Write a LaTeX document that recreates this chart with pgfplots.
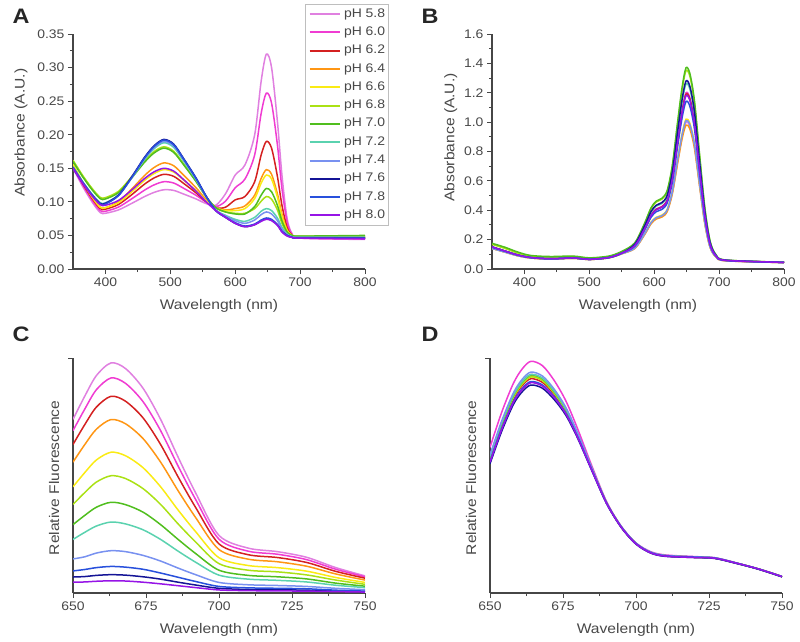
\documentclass[border=0pt]{standalone}
\usepackage{fontspec}
\setmainfont{Liberation Sans}[FakeStretch=1.12]
\usepackage{pgfplots}
\usepackage{pgfplotstable}
\pgfplotsset{compat=1.18}

\definecolor{c58}{RGB}{224,128,224}
\definecolor{c60}{RGB}{240,60,210}
\definecolor{c62}{RGB}{212,32,32}
\definecolor{c64}{RGB}{255,150,20}
\definecolor{c66}{RGB}{250,235,20}
\definecolor{c68}{RGB}{170,225,20}
\definecolor{c70}{RGB}{80,190,30}
\definecolor{c72}{RGB}{90,210,175}
\definecolor{c74}{RGB}{120,145,240}
\definecolor{c76}{RGB}{20,20,150}
\definecolor{c78}{RGB}{40,80,220}
\definecolor{c80}{RGB}{150,20,230}
\definecolor{txt}{RGB}{72,72,72}
\definecolor{axc}{RGB}{70,70,70}
\definecolor{lgc}{RGB}{190,190,190}

% Panel A: absorbance vs pH
\pgfplotstableread{
x p58 p60 p62 p64 p66 p68 p70 p72 p74 p76 p78 p80
350 0.150 0.152 0.153 0.155 0.156 0.162 0.160 0.152 0.150 0.150 0.152 0.150
365 0.1228 0.1252 0.127 0.129 0.1296 0.1392 0.1372 0.130 0.1284 0.1284 0.1292 0.1276
380 0.099 0.1018 0.1043 0.1063 0.1065 0.1193 0.1173 0.1108 0.1095 0.1095 0.1093 0.108
392 0.084 0.087 0.090 0.092 0.092 0.1067 0.1047 0.0987 0.0976 0.0976 0.0967 0.0957
400 0.083 0.086 0.0891 0.0914 0.0912 0.1063 0.1043 0.0986 0.0978 0.0978 0.0968 0.095
420 0.088 0.0922 0.0961 0.1002 0.0987 0.1156 0.1137 0.1101 0.1096 0.1100 0.1091 0.102
440 0.0975 0.1042 0.1103 0.1186 0.1144 0.1369 0.1350 0.1349 0.1353 0.1365 0.1355 0.1173
460 0.1077 0.1173 0.1262 0.139 0.1318 0.1608 0.1587 0.1627 0.1638 0.1660 0.1650 0.1345
475 0.1141 0.1253 0.1356 0.1512 0.1422 0.1749 0.1728 0.1792 0.1809 0.1836 0.1825 0.1447
490 0.118 0.130 0.141 0.158 0.148 0.182 0.180 0.188 0.190 0.193 0.192 0.150
505 0.1171 0.1281 0.1381 0.1539 0.1445 0.1756 0.1738 0.1814 0.1834 0.1862 0.1853 0.1459
520 0.1118 0.1205 0.1279 0.1403 0.1329 0.1572 0.1558 0.1614 0.1630 0.1652 0.1646 0.1336
540 0.1042 0.1095 0.1131 0.1206 0.1161 0.1306 0.1298 0.1325 0.1335 0.1349 0.1344 0.1156
555 0.0975 0.0998 0.1003 0.1036 0.1016 0.1080 0.1077 0.1077 0.1082 0.1088 0.1086 0.1003
570 0.095 0.093 0.0911 0.0914 0.0912 0.0912 0.0914 0.088 0.088 0.087 0.087 0.087
585 0.112 0.101 0.092 0.088 0.087 0.085 0.085 0.080 0.079 0.077 0.077 0.077
600 0.140 0.121 0.103 0.090 0.087 0.083 0.082 0.074 0.072 0.068 0.069 0.068
615 0.155 0.134 0.108 0.094 0.090 0.083 0.082 0.071 0.068 0.063 0.064 0.063
630 0.200 0.170 0.130 0.110 0.105 0.090 0.093 0.077 0.073 0.066 0.067 0.066
640 0.280 0.232 0.170 0.135 0.128 0.101 0.110 0.086 0.081 0.072 0.073 0.071
648 0.320 0.262 0.190 0.148 0.140 0.108 0.120 0.090 0.085 0.075 0.076 0.074
656 0.300 0.247 0.180 0.141 0.134 0.104 0.115 0.087 0.082 0.073 0.074 0.072
665 0.220 0.185 0.138 0.112 0.107 0.088 0.095 0.076 0.072 0.066 0.066 0.065
672 0.140 0.120 0.095 0.082 0.079 0.068 0.072 0.062 0.060 0.056 0.056 0.055
680 0.075 0.070 0.062 0.058 0.057 0.054 0.055 0.052 0.051 0.050 0.050 0.049
688 0.052 0.051 0.050 0.050 0.050 0.050 0.050 0.048 0.048 0.047 0.047 0.047
700 0.046 0.046 0.047 0.048 0.048 0.049 0.049 0.047 0.047 0.046 0.046 0.046
800 0.044 0.045 0.046 0.047 0.047 0.049 0.050 0.047 0.047 0.046 0.046 0.045
}\tabA

% Panel B
\pgfplotstableread{
x p58 p60 p62 p64 p66 p68 p70 p72 p74 p76 p78 p80
350 0.140 0.150 0.150 0.140 0.140 0.168 0.175 0.150 0.140 0.150 0.150 0.150
370 0.115 0.122 0.122 0.115 0.115 0.140 0.148 0.122 0.115 0.122 0.122 0.122
390 0.090 0.095 0.095 0.090 0.090 0.108 0.115 0.095 0.090 0.095 0.095 0.095
410 0.075 0.078 0.078 0.075 0.075 0.088 0.092 0.078 0.075 0.078 0.078 0.078
440 0.068 0.070 0.070 0.068 0.068 0.080 0.085 0.070 0.068 0.070 0.070 0.070
475 0.073 0.075 0.075 0.073 0.073 0.084 0.088 0.075 0.073 0.075 0.075 0.075
500 0.065 0.066 0.066 0.065 0.065 0.073 0.076 0.066 0.065 0.066 0.066 0.066
530 0.076 0.078 0.078 0.076 0.076 0.085 0.088 0.078 0.076 0.078 0.078 0.078
550 0.104 0.108 0.108 0.104 0.104 0.116 0.120 0.108 0.104 0.108 0.108 0.108
570 0.141 0.161 0.160 0.139 0.143 0.176 0.178 0.167 0.142 0.169 0.155 0.159
585 0.236 0.276 0.274 0.232 0.240 0.306 0.310 0.288 0.238 0.292 0.264 0.272
595 0.312 0.368 0.366 0.307 0.318 0.410 0.416 0.385 0.315 0.391 0.352 0.363
603 0.346 0.409 0.406 0.340 0.352 0.456 0.462 0.428 0.349 0.434 0.390 0.403
612 0.360 0.426 0.423 0.354 0.367 0.476 0.482 0.446 0.363 0.453 0.406 0.420
620 0.398 0.472 0.469 0.391 0.406 0.528 0.535 0.495 0.402 0.502 0.450 0.465
628 0.523 0.623 0.618 0.513 0.533 0.698 0.708 0.653 0.528 0.663 0.593 0.613
636 0.733 0.877 0.869 0.718 0.747 0.985 1.000 0.920 0.740 0.934 0.833 0.862
643 0.905 1.085 1.076 0.887 0.923 1.220 1.238 1.139 0.914 1.157 1.031 1.067
649 1.000 1.200 1.190 0.980 1.020 1.350 1.370 1.260 1.010 1.280 1.140 1.180
655 0.971 1.165 1.156 0.952 0.991 1.311 1.330 1.224 0.981 1.243 1.107 1.146
662 0.838 1.004 0.995 0.821 0.854 1.128 1.145 1.053 0.846 1.070 0.954 0.987
670 0.570 0.680 0.675 0.559 0.581 0.763 0.774 0.713 0.576 0.724 0.647 0.669
678 0.312 0.368 0.366 0.307 0.318 0.410 0.416 0.385 0.315 0.391 0.352 0.363
686 0.150 0.172 0.171 0.148 0.152 0.189 0.191 0.179 0.151 0.181 0.165 0.170
695 0.083 0.091 0.091 0.082 0.084 0.097 0.098 0.094 0.084 0.094 0.089 0.090
710 0.056 0.059 0.059 0.056 0.057 0.061 0.061 0.060 0.057 0.060 0.058 0.059
800 0.044 0.045 0.045 0.044 0.044 0.046 0.046 0.045 0.044 0.045 0.045 0.045
}\tabB

% Panel C
\pgfplotstableread{
x p58 p60 p62 p64 p66 p68 p70 p72 p74 p76 p78 p80
650 0.739 0.691 0.632 0.557 0.452 0.377 0.291 0.228 0.145 0.068 0.094 0.046
654 0.837 0.782 0.716 0.631 0.512 0.427 0.330 0.258 0.154 0.070 0.100 0.047
658 0.925 0.865 0.791 0.697 0.566 0.472 0.365 0.285 0.170 0.075 0.108 0.050
663 0.979 0.915 0.837 0.738 0.599 0.499 0.386 0.302 0.180 0.078 0.113 0.052
668 0.955 0.892 0.816 0.720 0.584 0.487 0.376 0.294 0.176 0.076 0.110 0.051
674 0.871 0.814 0.745 0.657 0.533 0.444 0.344 0.269 0.160 0.069 0.101 0.046
680 0.739 0.691 0.632 0.557 0.452 0.377 0.291 0.228 0.136 0.059 0.085 0.039
686 0.578 0.540 0.494 0.435 0.353 0.294 0.228 0.178 0.106 0.046 0.067 0.031
692 0.426 0.398 0.364 0.321 0.261 0.217 0.168 0.131 0.078 0.034 0.049 0.023
700 0.245 0.229 0.209 0.185 0.150 0.125 0.097 0.076 0.045 0.020 0.028 0.013
710 0.191 0.178 0.163 0.144 0.117 0.097 0.075 0.059 0.035 0.015 0.022 0.010
720 0.176 0.165 0.151 0.133 0.108 0.090 0.069 0.054 0.032 0.014 0.020 0.009
730 0.152 0.142 0.130 0.114 0.093 0.077 0.060 0.047 0.028 0.012 0.018 0.008
740 0.108 0.101 0.092 0.081 0.066 0.055 0.042 0.033 0.020 0.009 0.012 0.006
750 0.073 0.069 0.063 0.055 0.045 0.037 0.029 0.023 0.014 0.006 0.008 0.004
}\tabC

% Panel D
\pgfplotstableread{
x p58 p60 p62 p64 p66 p68 p70 p72 p74 p76 p78 p80
650 0.581 0.620 0.568 0.578 0.574 0.574 0.580 0.581 0.588 0.550 0.560 0.557
654 0.724 0.769 0.710 0.720 0.716 0.716 0.722 0.724 0.732 0.688 0.700 0.696
658 0.842 0.892 0.826 0.838 0.833 0.833 0.840 0.842 0.851 0.802 0.815 0.811
661 0.899 0.953 0.882 0.894 0.889 0.889 0.897 0.899 0.909 0.856 0.870 0.865
664 0.930 0.986 0.912 0.925 0.920 0.920 0.928 0.930 0.940 0.885 0.900 0.895
668 0.914 0.967 0.896 0.909 0.904 0.904 0.912 0.914 0.923 0.871 0.885 0.880
672 0.859 0.904 0.845 0.855 0.851 0.851 0.857 0.859 0.867 0.823 0.835 0.831
676 0.783 0.817 0.772 0.780 0.777 0.777 0.782 0.783 0.789 0.756 0.765 0.762
680 0.677 0.699 0.670 0.675 0.673 0.673 0.676 0.677 0.681 0.659 0.665 0.663
685 0.526 0.537 0.522 0.525 0.524 0.524 0.526 0.526 0.528 0.517 0.520 0.519
690 0.382 0.387 0.381 0.382 0.382 0.382 0.382 0.382 0.383 0.379 0.380 0.380
695 0.281 0.283 0.280 0.281 0.280 0.280 0.281 0.281 0.282 0.278 0.280 0.279
700 0.211 0.213 0.210 0.211 0.210 0.210 0.211 0.211 0.212 0.208 0.210 0.209
705 0.173 0.176 0.172 0.173 0.172 0.172 0.173 0.173 0.174 0.170 0.172 0.171
710 0.159 0.162 0.158 0.159 0.158 0.158 0.159 0.159 0.160 0.156 0.158 0.157
720 0.153 0.155 0.152 0.153 0.152 0.152 0.153 0.153 0.154 0.151 0.152 0.151
727 0.149 0.150 0.148 0.149 0.148 0.148 0.149 0.149 0.150 0.147 0.148 0.148
735 0.125 0.126 0.125 0.125 0.125 0.125 0.125 0.125 0.126 0.124 0.125 0.125
742 0.102 0.102 0.102 0.102 0.102 0.102 0.102 0.102 0.102 0.101 0.102 0.102
750 0.070 0.070 0.070 0.070 0.070 0.070 0.070 0.070 0.070 0.069 0.070 0.070
}\tabD

\newcommand{\plotall}[1]{%
  \addplot[c58] table[x=x,y=p58]{#1};
  \addplot[c60] table[x=x,y=p60]{#1};
  \addplot[c62] table[x=x,y=p62]{#1};
  \addplot[c64] table[x=x,y=p64]{#1};
  \addplot[c66] table[x=x,y=p66]{#1};
  \addplot[c68] table[x=x,y=p68]{#1};
  \addplot[c70] table[x=x,y=p70]{#1};
  \addplot[c72] table[x=x,y=p72]{#1};
  \addplot[c74] table[x=x,y=p74]{#1};
  \addplot[c76] table[x=x,y=p76]{#1};
  \addplot[c78] table[x=x,y=p78]{#1};
  \addplot[c80] table[x=x,y=p80]{#1};
}

\pgfplotsset{
  panel/.style={
    scale only axis, width=292bp, height=235bp,
    axis lines*=left,
    tick align=outside,
    major tick length=5bp, minor tick length=3bp,
    axis line style={color=axc, line width=1.2bp},
    every tick/.style={color=axc, line width=0.9bp},
    /pgf/number format/assume math mode=true,
    tick label style={font=\fontsize{12.5}{14}\selectfont, text=txt},
    label style={font=\fontsize{14}{16}\selectfont, text=txt},
    xlabel={Wavelength (nm)},
    xlabel style={at={(axis description cs:0.5,-0.155)}, anchor=center},
    every axis plot/.append style={line width=1.5bp, smooth, no markers},
  },
  abs/.style={
    xmin=350, xmax=800, xtick={400,500,600,700,800}, minor x tick num=1,
    ylabel={Absorbance (A.U.)},
  },
  fluo/.style={
    xmin=650, xmax=750, xtick={650,675,700,725,750}, minor x tick num=1,
    ymin=0, ymax=1, ytick={1}, yticklabels={},
    ylabel={Relative Fluorescence},
    ylabel style={at={(axis description cs:-0.065,0.49)}, anchor=center},
  },
}

\begin{document}
\begin{tikzpicture}
\path[use as bounding box] (0,0) rectangle (800bp,-642bp);

% A
\begin{axis}[panel, abs, at={(73bp,-269bp)}, anchor=south west,
  ymin=0, ymax=0.35, ytick={0,0.05,0.1,0.15,0.2,0.25,0.3,0.35}, minor y tick num=1,
  yticklabel style={/pgf/number format/.cd, fixed, fixed zerofill, precision=2},
  ylabel style={at={(axis description cs:-0.178,0.58)}, anchor=center},
  legend entries={pH 5.8,pH 6.0,pH 6.2,pH 6.4,pH 6.6,pH 6.8,pH 7.0,pH 7.2,pH 7.4,pH 7.6,pH 7.8,pH 8.0},
  legend cell align=left,
  legend image code/.code={\draw[#1, line width=2bp] (0bp,0bp) -- (30bp,0bp);},
  legend style={at={(1.082,1.126)}, anchor=north east, draw=lgc, line width=0.6bp,
    font=\fontsize{12.5}{14}\selectfont, text=txt, inner sep=3bp,
    row sep=5.3bp, column sep=3bp,
    nodes={inner sep=0.5bp, text height=9bp, text depth=3bp}},
]
\plotall{\tabA}
\end{axis}

% B
\begin{axis}[panel, abs, at={(492bp,-269bp)}, anchor=south west,
  ymin=0, ymax=1.6, ytick={0,0.2,0.4,0.6,0.8,1.0,1.2,1.4,1.6}, minor y tick num=1,
  yticklabel style={/pgf/number format/.cd, fixed, fixed zerofill, precision=1},
  ylabel style={at={(axis description cs:-0.141,0.56)}, anchor=center},
]
\plotall{\tabB}
\end{axis}

% C
\begin{axis}[panel, fluo, at={(73bp,-593bp)}, anchor=south west]
\plotall{\tabC}
\end{axis}

% D
\begin{axis}[panel, fluo, at={(490bp,-593bp)}, anchor=south west]
\plotall{\tabD}
\end{axis}

\node[font=\fontsize{21}{22}\selectfont\bfseries, text=black!85] at (21bp,-16bp) {A};
\node[font=\fontsize{21}{22}\selectfont\bfseries, text=black!85] at (430bp,-16bp) {B};
\node[font=\fontsize{21}{22}\selectfont\bfseries, text=black!85] at (21bp,-334bp) {C};
\node[font=\fontsize{21}{22}\selectfont\bfseries, text=black!85] at (430bp,-334bp) {D};
\end{tikzpicture}
\end{document}
